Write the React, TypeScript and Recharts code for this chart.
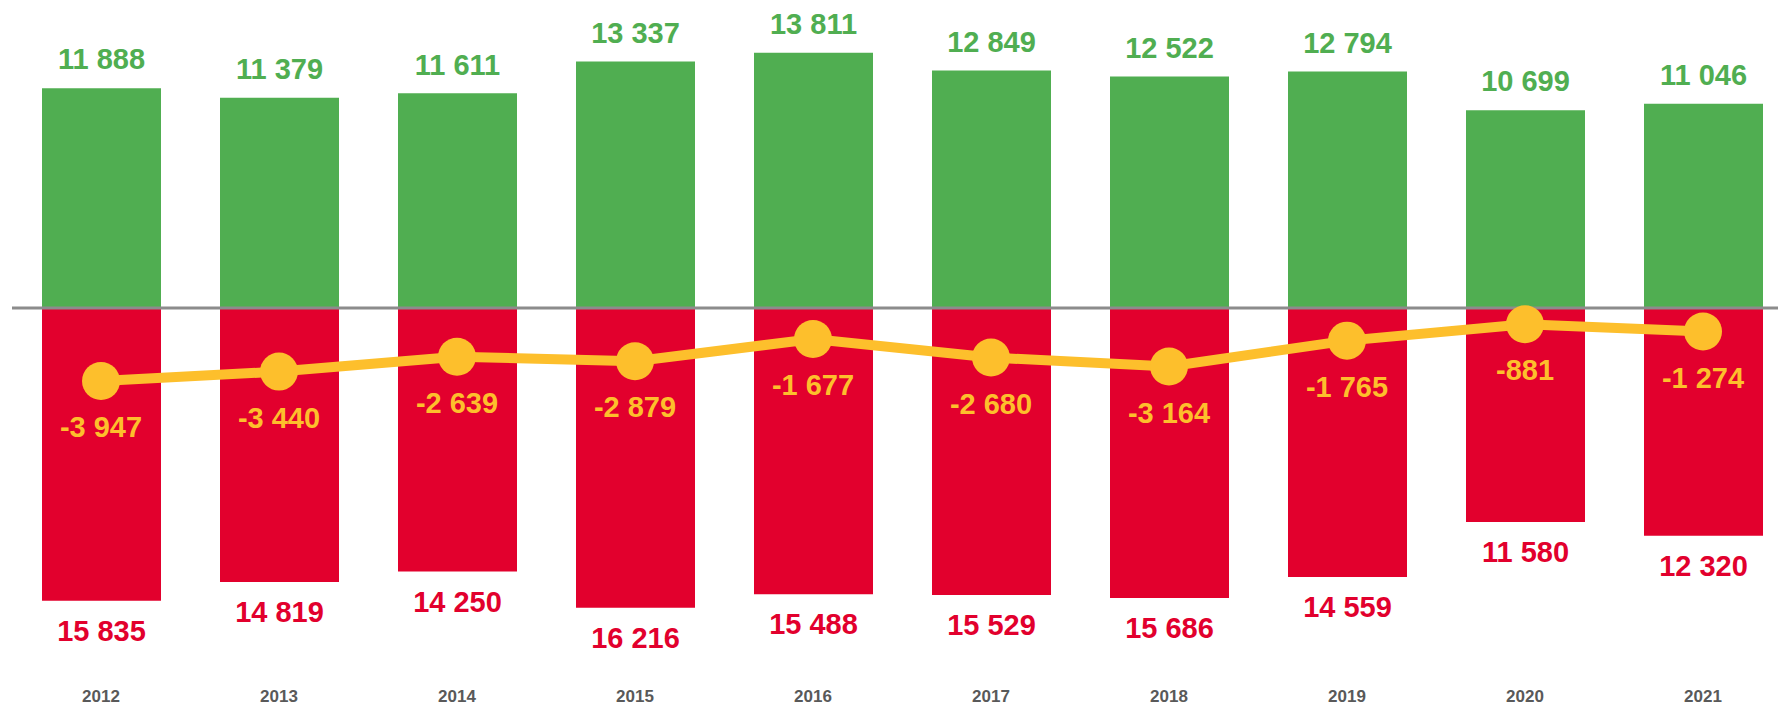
import React from "react";
import {
  ComposedChart,
  Bar,
  Line,
  XAxis,
  YAxis,
  ReferenceLine,
  LabelList,
} from "recharts";

const years = ["2012", "2013", "2014", "2015", "2016", "2017", "2018", "2019", "2020", "2021"];
const exportsValues = [11888, 11379, 11611, 13337, 13811, 12849, 12522, 12794, 10699, 11046];
const importsValues = [15835, 14819, 14250, 16216, 15488, 15529, 15686, 14559, 11580, 12320];
const balanceValues = [-3947, -3440, -2639, -2879, -1677, -2680, -3164, -1765, -881, -1274];

const data = years.map((y, i) => ({
  year: y,
  exp: exportsValues[i],
  imp: -importsValues[i],
  bal: balanceValues[i],
}));

const FONT = "'Liberation Sans', Arial, sans-serif";
const GREEN = "#50AE51";
const RED = "#E2002D";
const YELLOW = "#FDBF2C";

const fmt = (v: number) => {
  const neg = v < 0;
  const s = Math.abs(Math.round(v)).toString().replace(/\B(?=(\d{3})+(?!\d))/g, " ");
  return (neg ? "-" : "") + s;
};

const ExpLabel = (props: any) => {
  const { x, y, width, value } = props;
  const top = Math.min(y, y + props.height);
  return (
    <text x={x + width / 2} y={top - 29} dy="0.35em" textAnchor="middle" fill={GREEN} fontFamily={FONT} fontWeight={700} fontSize={29}>
      {fmt(value)}
    </text>
  );
};

const ImpLabel = (props: any) => {
  const { x, y, width, height, value } = props;
  const bottom = Math.max(y, y + height);
  return (
    <text x={x + width / 2} y={bottom + 30} dy="0.35em" textAnchor="middle" fill={RED} fontFamily={FONT} fontWeight={700} fontSize={29}>
      {fmt(Math.abs(value))}
    </text>
  );
};

const BalLabel = (props: any) => {
  const { x, y, value } = props;
  return (
    <text x={x} y={y + 46} dy="0.35em" textAnchor="middle" fill={YELLOW} fontFamily={FONT} fontWeight={700} fontSize={29}>
      {fmt(value)}
    </text>
  );
};

const YearTick = (props: any) => {
  const { x, y, payload } = props;
  return (
    <text x={x} y={y + 75} dy="0.35em" textAnchor="middle" fill="#595959" fontFamily={FONT} fontWeight={700} fontSize={17}>
      {payload.value}
    </text>
  );
};

export default function App() {
  return (
    <div style={{ position: "fixed", left: 0, top: 0, width: 1778, height: 707, overflow: "hidden", background: "#fff" }}>
      <ComposedChart
        width={1800}
        height={707}
        data={data}
        stackOffset="sign"
        margin={{ top: 3, right: 8, left: 12, bottom: 0 }}
      >
        <XAxis dataKey="year" axisLine={false} tickLine={false} height={94} tick={<YearTick />} interval={0} />
        <YAxis hide domain={[-16500, 16500]} allowDataOverflow />
        <Bar dataKey="exp" stackId="a" fill={GREEN} barSize={119} isAnimationActive={false}>
          <LabelList dataKey="exp" content={<ExpLabel />} />
        </Bar>
        <Bar dataKey="imp" stackId="a" fill={RED} barSize={119} isAnimationActive={false}>
          <LabelList dataKey="imp" content={<ImpLabel />} />
        </Bar>
        <ReferenceLine y={0} stroke="#8C8C8C" strokeWidth={3} />
        <Line
          type="linear"
          dataKey="bal"
          stroke={YELLOW}
          strokeWidth={10}
          dot={{ r: 19, fill: YELLOW, stroke: "none" }}
          activeDot={false}
          isAnimationActive={false}
        >
          <LabelList dataKey="bal" content={<BalLabel />} />
        </Line>
      </ComposedChart>
    </div>
  );
}
